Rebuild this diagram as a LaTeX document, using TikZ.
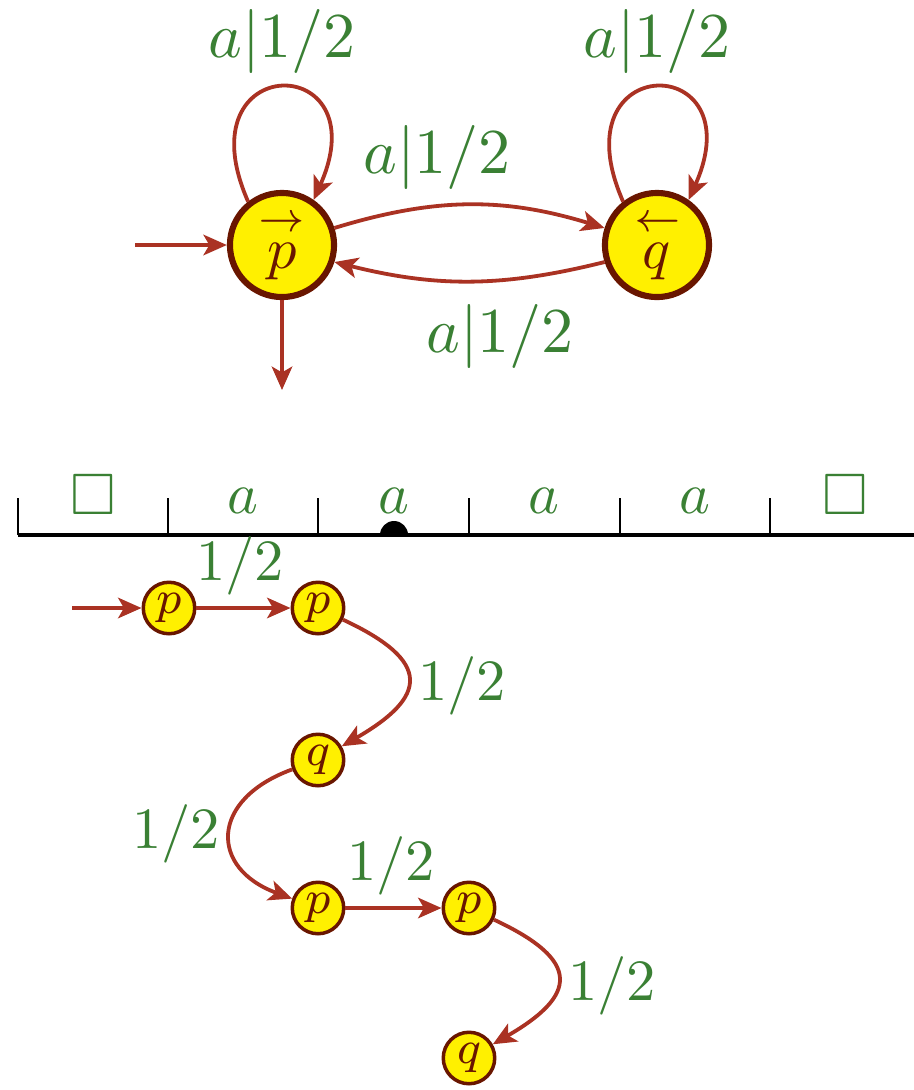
\documentclass[tikz,border=0pt]{standalone}
\usepackage{amssymb}
\usetikzlibrary{arrows.meta}
\definecolor{edgecol}{RGB}{170,50,35}
\definecolor{nodefill}{RGB}{255,240,0}
\definecolor{nodeline}{RGB}{105,22,0}
\definecolor{labcol}{RGB}{58,128,52}
\begin{document}
\begin{tikzpicture}[x=0.171pt,y=0.171pt,
 bigstate/.style={circle,draw=nodeline,fill=nodefill,line width=1.05pt,minimum size=17.8pt,inner sep=0pt,text=nodeline},
 smallstate/.style={circle,draw=nodeline,fill=nodefill,line width=0.6pt,minimum size=8.8pt,inner sep=0pt,text=nodeline,font=\fontsize{8.4}{10}\selectfont},
 edge/.style={draw=edgecol,line width=0.65pt,-{Stealth[length=4pt,width=3.5pt,inset=1pt]}},
 toplab/.style={text=labcol,font=\fontsize{10.8}{13}\selectfont,inner sep=0pt,anchor=base},
 lab/.style={text=labcol,inner sep=0pt,anchor=base},
 tapesym/.style={text=labcol,anchor=base,inner sep=0pt},
 tapeline/.style={draw=black,line width=0.6pt},
 tapetick/.style={draw=black,line width=0.45pt},
]
\useasboundingbox (0,0) rectangle (914,-1090);

% automaton
\node[bigstate] (p) at (282,-245) {$\stackrel{\rightarrow}{p}$};
\node[bigstate] (q) at (657,-245) {$\stackrel{\leftarrow}{q}$};
\coordinate (pin) at (135,-245);
\coordinate (pout) at (282,-390);
\draw[edge] (pin) -- (p);
\draw[edge] (p) -- (pout);
\draw[edge] (p.128) .. controls +(-67,152) and +(67,150) .. (p.55);
\draw[edge] (q.128) .. controls +(-67,152) and +(67,150) .. (q.55);
\draw[edge] (p.18) to[bend left=17] (q.162);
\draw[edge] (q.198) to[bend left=14] (p.-18);
\node[toplab] (lp) at (282,-57) {$a|1/2$};
\node[toplab] (lq) at (657,-57) {$a|1/2$};
\node[toplab] (lpq) at (437,-173) {$a|1/2$};
\node[toplab] (lqp) at (500,-352) {$a|1/2$};

% tape
\draw[tapeline] (18,-535) -- (914,-535);
\foreach \tx in {18,168,318,469,620,770}
  \draw[tapetick] (\tx,-535) -- (\tx,-498);
\node[tapesym] (c1) at (93,-514) {$\square$};
\node[tapesym] (c2) at (243,-513) {$a$};
\node[tapesym] (c3) at (394,-513) {$a$};
\node[tapesym] (c4) at (544,-513) {$a$};
\node[tapesym] (c5) at (695,-513) {$a$};
\node[tapesym] (c6) at (845,-514) {$\square$};
\fill[black] (380,-535) arc[start angle=180,end angle=0,radius=14] -- cycle;

% run
\node[smallstate] (r1) at (169,-608) {$p$};
\node[smallstate] (r2) at (318,-608) {$p$};
\node[smallstate] (r3) at (318,-760) {$q$};
\node[smallstate] (r4) at (318,-908) {$p$};
\node[smallstate] (r5) at (469,-908) {$p$};
\node[smallstate] (r6) at (469,-1058) {$q$};
\coordinate (rin) at (72,-608);
\draw[edge] (rin) -- (r1);
\draw[edge] (r1) -- (r2);
\draw[edge] (r2) to[out=-25,in=30,looseness=2] (r3);
\draw[edge] (r3) to[out=200,in=160,looseness=1.75] (r4);
\draw[edge] (r4) -- (r5);
\draw[edge] (r5) to[out=-25,in=30,looseness=2] (r6);
\node[lab] (w1) at (240,-580) {$1/2$};
\node[lab] (w2) at (462,-700) {$1/2$};
\node[lab] (w3) at (176,-848) {$1/2$};
\node[lab] (w4) at (391,-880) {$1/2$};
\node[lab] (w5) at (612,-1000) {$1/2$};
\end{tikzpicture}
\end{document}
